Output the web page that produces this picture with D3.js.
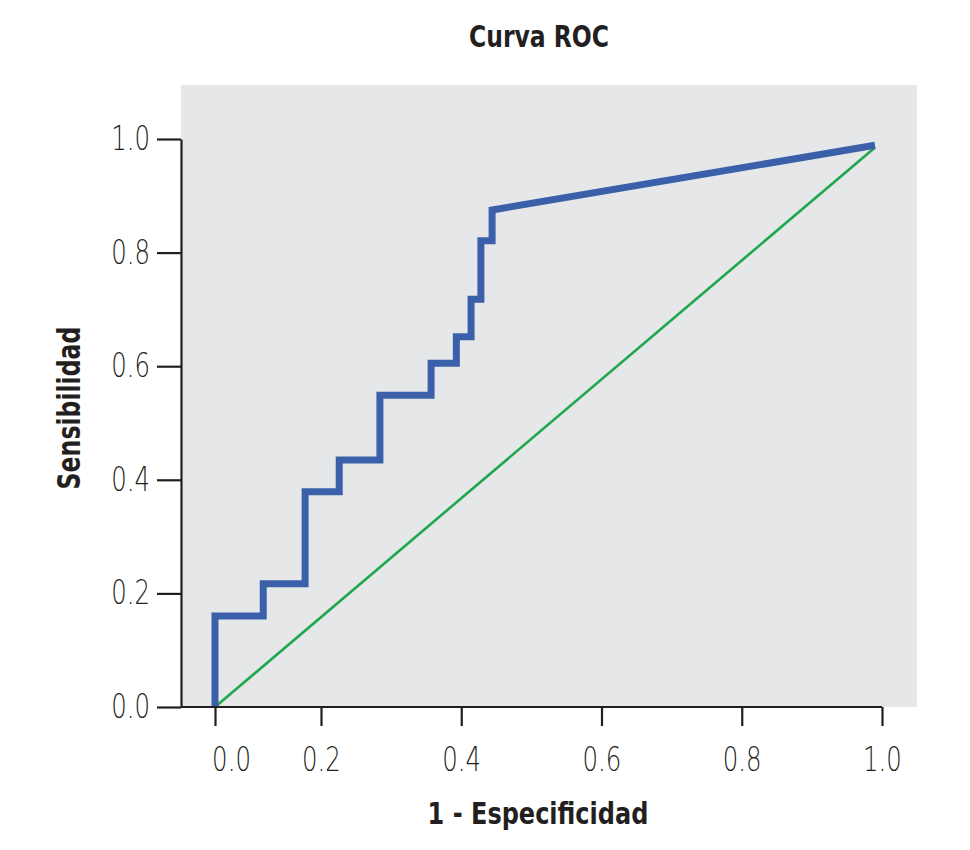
<!DOCTYPE html>
<html>
<head>
<meta charset="utf-8">
<script src="https://cdn.jsdelivr.net/npm/d3@7"></script>
<style>
  body { margin: 0; background: #fff; }
  text { font-family: "DejaVu Sans Condensed", sans-serif; }
</style>
</head>
<body>
<svg id="chart" width="970" height="850"></svg>
<script>
// ROC curve steps: 1 - especificidad (fpr) and sensibilidad (tpr)
const fpr = [0.0, 0.0, 0.091, 0.091, 0.170, 0.170, 0.226, 0.226, 0.284, 0.284,
             0.357, 0.357, 0.393, 0.393, 0.414, 0.414, 0.428, 0.428, 0.444, 0.444, 0.990];
const tpr = [0.0, 0.160, 0.160, 0.217, 0.217, 0.379, 0.379, 0.435, 0.435, 0.549,
             0.549, 0.605, 0.605, 0.652, 0.652, 0.718, 0.718, 0.821, 0.821, 0.875, 0.989];

// reference diagonal
const diagX = [0.0, 0.99];
const diagY = [0.0, 0.985];

const xTicks = [0.0, 0.2, 0.4, 0.6, 0.8, 1.0];
const yTicks = [0.0, 0.2, 0.4, 0.6, 0.8, 1.0];

const title = "Curva ROC";
const xLabel = "1 - Especificidad";
const yLabel = "Sensibilidad";

const svg = d3.select("#chart");

// plot panel
const panel = { left: 181, right: 917, top: 85, bottom: 707 };

// the original uses a narrow font, so text gets squeezed horizontally
const tickSqueeze = 0.74;

// the printed axis is not uniform between 0.0 and 0.2
const x = d3.scaleLinear()
    .domain([0, 0.2, 1])
    .range([215, 321, 882]);

const y = d3.scaleLinear()
    .domain([0, 1])
    .range([panel.bottom, 139]);

svg.append("rect")
    .attr("x", panel.left)
    .attr("y", panel.top)
    .attr("width", panel.right - panel.left)
    .attr("height", panel.bottom - panel.top)
    .style("fill", "#e6e7e9");

// diagonal line
const diagLine = d3.line()
    .x((d, i) => x(diagX[i]))
    .y((d, i) => y(diagY[i]));

svg.append("path")
    .attr("d", diagLine(diagX))
    .style("fill", "none")
    .style("stroke", "#1fa74c")
    .style("stroke-width", 2.6);

// roc curve
const rocLine = d3.line()
    .x((d, i) => x(fpr[i]))
    .y((d, i) => y(tpr[i]));

svg.append("path")
    .attr("d", rocLine(fpr))
    .style("fill", "none")
    .style("stroke", "#3b60aa")
    .style("stroke-width", 7)
    .style("stroke-linejoin", "miter");

// x axis
const xAxis = svg.append("g")
    .attr("transform", `translate(0,${panel.bottom})`)
    .call(d3.axisBottom(x)
        .tickValues(xTicks)
        .tickFormat(d3.format(".1f"))
        .tickSize(19)
        .tickSizeOuter(0)
        .tickPadding(22));

xAxis.select(".domain").remove();
xAxis.append("line")
    .attr("x1", panel.left)
    .attr("x2", x(1))
    .style("stroke", "#231f20")
    .style("stroke-width", 2.2);

// first label sits a bit to the right in the original
xAxis.selectAll(".tick").filter(d => d === 0).select("text").attr("dx", 16 / tickSqueeze);

// y axis
const yAxis = svg.append("g")
    .attr("transform", `translate(${panel.left},0)`)
    .call(d3.axisLeft(y)
        .tickValues(yTicks)
        .tickFormat(d3.format(".1f"))
        .tickSize(24)
        .tickSizeOuter(0)
        .tickPadding(7));

yAxis.selectAll(".tick text").attr("x", -31 / tickSqueeze);

[xAxis, yAxis].forEach(g => {
    g.selectAll("line").style("stroke", "#231f20").style("stroke-width", 2.2);
    g.selectAll(".domain").style("stroke", "#231f20").style("stroke-width", 2.2);
    g.selectAll("text")
        .attr("transform", `scale(${tickSqueeze},1)`)
        .style("font-size", "33px")
        .style("font-weight", 200)
        .style("fill", "#231f20")
        .style("font-family", "'DejaVu Sans', sans-serif");
});

// titles
function label(text, tx, ty, size, squeeze, rotate) {
    svg.append("text")
        .attr("transform", `translate(${tx},${ty}) rotate(${rotate}) scale(${squeeze},1)`)
        .attr("text-anchor", "middle")
        .style("font-size", size + "px")
        .style("font-weight", "bold")
        .style("fill", "#231f20")
        .text(text);
}

label(title, 539, 47, 30, 0.87, 0);
label(xLabel, 538, 824, 30, 0.89, 0);
label(yLabel, 80, 408, 32, 0.82, -90);
</script>
</body>
</html>
